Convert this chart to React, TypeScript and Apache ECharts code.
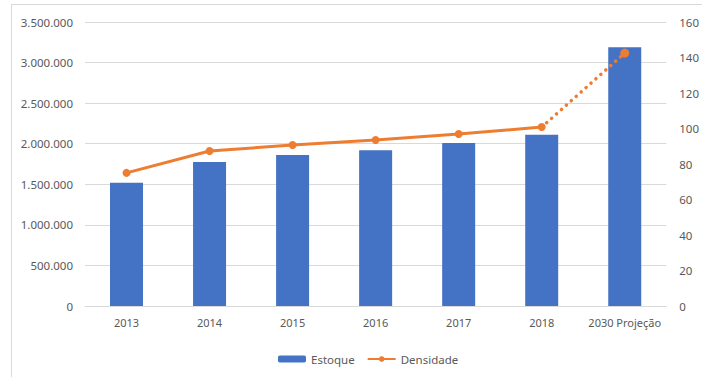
import React, { useEffect, useRef } from "react";
import * as echarts from "echarts";

const categories = ["2013", "2014", "2015", "2016", "2017", "2018", "2030 Projeção"];
const estoque = [1520000, 1775000, 1860000, 1920000, 2010000, 2110000, 3190000];
const densidade = [75, 87.3, 90.7, 93.5, 96.9, 100.8, null];
const densidadeProj = [null, null, null, null, null, 100.8, 142.5];

const fmt = (v: number) => String(v).replace(/\B(?=(\d{3})+(?!\d))/g, ".");

export default function App() {
  const ref = useRef<HTMLDivElement>(null);
  useEffect(() => {
    const chart = echarts.init(ref.current!, null, { renderer: "svg" });
    const font = "'Noto Sans', sans-serif";
    const txt = { color: "#595959", fontFamily: font, fontSize: 11.5 };
    chart.setOption({
      animation: false,
      grid: { left: 85, right: 31, top: 22, bottom: 71 },
      legend: {
        data: ["Estoque", "Densidade"],
        left: 273,
        top: 348,
        itemWidth: 28,
        itemHeight: 7,
        itemGap: 12,
        textStyle: { ...txt },
      },
      xAxis: {
        type: "category",
        data: categories,
        axisLine: { lineStyle: { color: "#d9d9d9" } },
        axisTick: { show: false },
        axisLabel: { ...txt, fontSize: 11, margin: 11, interval: 0 },
      },
      yAxis: [
        {
          type: "value",
          min: 0,
          max: 3500000,
          interval: 500000,
          axisLabel: { ...txt, margin: 12, formatter: (v: number) => fmt(v) },
          splitLine: { lineStyle: { color: "#d9d9d9" } },
        },
        {
          type: "value",
          min: 0,
          max: 160,
          interval: 20,
          axisLabel: { ...txt, margin: 13 },
          splitLine: { show: false },
        },
      ],
      series: [
        {
          name: "Estoque",
          type: "bar",
          data: estoque,
          barWidth: 33,
          itemStyle: { color: "#4472C4" },
        },
        {
          name: "Densidade",
          type: "line",
          yAxisIndex: 1,
          data: densidade,
          symbol: "circle",
          symbolSize: 8,
          lineStyle: { color: "#ED7D31", width: 3 },
          itemStyle: { color: "#ED7D31" },
        },
        {
          name: "Densidade Projeção",
          type: "line",
          yAxisIndex: 1,
          data: densidadeProj.map((v, i) =>
            i === 5 ? { value: v, symbol: "none" } : v
          ),
          symbol: "circle",
          symbolSize: 9,
          lineStyle: { color: "#ED7D31", width: 3.5, type: [0.1, 6.5], cap: "round" },
          itemStyle: { color: "#ED7D31" },
        },
      ],
    });
    return () => chart.dispose();
  }, []);
  return (
    <div style={{ position: "absolute", left: 0, top: 0, width: 702, height: 377, overflow: "hidden", background: "#fff" }}>
      <div
        style={{
          position: "absolute",
          left: 11,
          top: 4,
          width: 720,
          height: 400,
          borderLeft: "1px solid #d9d9d9",
          borderTop: "1px solid #d9d9d9",
        }}
      />
      <div ref={ref} style={{ position: "absolute", left: 0, top: 0, width: 702, height: 377 }} />
    </div>
  );
}
